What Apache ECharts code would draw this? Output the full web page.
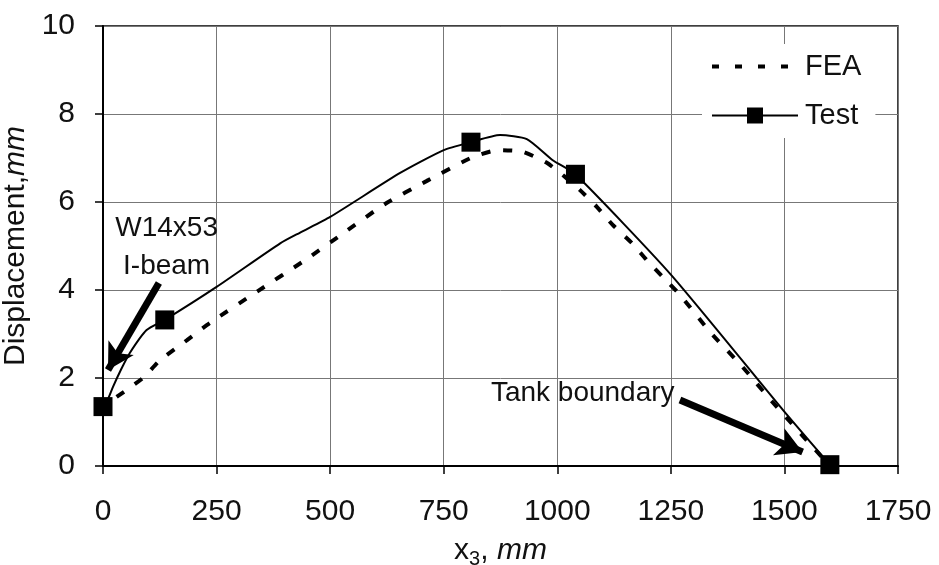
<!DOCTYPE html>
<html>
<head>
<meta charset="utf-8">
<script src="https://cdn.jsdelivr.net/npm/echarts@6/dist/echarts.min.js"></script>
<style>
  html, body { margin: 0; padding: 0; background: #fff; }
  #main { width: 939px; height: 565px; }
</style>
</head>
<body>
<div id="main"></div>
<script>
const FONT = 'Liberation Sans, Arial, sans-serif'

// FEA curve
const feaX = [30, 88, 125, 185, 235, 340, 445, 533, 620, 713, 814, 871, 924, 977, 1017, 1050, 1087, 1122, 1164, 1197, 1232, 1270, 1336, 1408, 1474, 1600]
const feaY = [1.57, 2.0, 2.4, 2.86, 3.25, 3.97, 4.68, 5.32, 5.95, 6.48, 7.02, 7.18, 7.14, 6.89, 6.57, 6.27, 5.89, 5.48, 5.07, 4.68, 4.3, 3.89, 3.05, 2.25, 1.45, 0]

// Test curve, measured points drawn with squares
const testX = [0, 10, 22, 40, 59, 96, 136, 250, 390, 433, 500, 654, 750, 810, 874, 933, 990, 1040, 1250, 1497, 1600]
const testY = [1.35, 1.5, 1.8, 2.2, 2.57, 3.09, 3.32, 4.07, 5.06, 5.3, 5.66, 6.66, 7.18, 7.36, 7.52, 7.43, 6.95, 6.63, 4.35, 1.27, 0.03]
const measuredX = [0, 136, 810, 1040, 1600]

const xTicks = [0, 250, 500, 750, 1000, 1250, 1500, 1750]
const yTicks = [0, 2, 4, 6, 8, 10]

// annotations in data coords
const notes = [
  { lines: ['W14x53', 'I-beam'], at: [140, 4.98], from: [123, 4.16], to: [11, 2.18] },
  { lines: ['Tank boundary'], at: [1056, 1.66], from: [1270, 1.5], to: [1540, 0.32] }
]

const chart = echarts.init(document.getElementById('main'))

const feaData = feaX.map((x, i) => [x, feaY[i]])
const testData = testX.map((x, i) => {
  if (measuredX.indexOf(x) >= 0) return [x, testY[i]]
  return { value: [x, testY[i]], symbol: 'none' }
})

const option = {
  backgroundColor: '#fff',
  animation: false,
  textStyle: { fontFamily: FONT, color: '#000' },
  grid: {
    left: 103, right: 41, top: 26, bottom: 99,
    outerBoundsMode: 'none',
    containLabel: false,
    show: true, borderColor: '#000', borderWidth: 1.5
  },
  legend: {
    orient: 'vertical',
    left: 702, top: 44,
    backgroundColor: '#fff',
    padding: [8, 14, 8, 8],
    itemWidth: 86, itemHeight: 20, itemGap: 20,
    textStyle: { fontSize: 29, color: '#111', fontFamily: FONT, padding: [0, 0, 0, 2] },
    data: [
      { name: 'FEA', itemStyle: { opacity: 0 }, lineStyle: { width: 4, type: [7, 16] } },
      { name: 'Test', lineStyle: { width: 2 } }
    ]
  },
  xAxis: {
    type: 'value',
    min: xTicks[0], max: xTicks[xTicks.length - 1], interval: 250,
    name: '{n|x}{s|3}{n|, }{i|mm}',
    nameLocation: 'middle', nameGap: 67,
    nameTextStyle: {
      rich: {
        n: { fontSize: 30, fontFamily: FONT, color: '#111' },
        s: { fontSize: 20, fontFamily: FONT, color: '#111', padding: [16, 0, 0, 0] },
        i: { fontSize: 30, fontFamily: FONT, fontStyle: 'italic', color: '#111' }
      }
    },
    axisLine: { onZero: false, lineStyle: { color: '#000', width: 2 } },
    axisTick: { show: true, length: 8, lineStyle: { color: '#000', width: 1.5 } },
    axisLabel: { fontSize: 30, color: '#111', margin: 31, fontFamily: FONT, formatter: v => String(v) },
    splitLine: { show: true, lineStyle: { color: '#777', width: 1 } }
  },
  yAxis: {
    type: 'value',
    min: yTicks[0], max: yTicks[yTicks.length - 1], interval: 2,
    name: '{n|Displacement,}{i|mm}',
    nameLocation: 'middle', nameGap: 64,
    nameTextStyle: {
      rich: {
        n: { fontSize: 30, fontFamily: FONT, color: '#111' },
        i: { fontSize: 30, fontFamily: FONT, fontStyle: 'italic', color: '#111' }
      }
    },
    axisLine: { show: true, lineStyle: { color: '#000', width: 2 } },
    axisTick: { show: true, length: 8, lineStyle: { color: '#000', width: 1.5 } },
    axisLabel: { fontSize: 30, color: '#111', margin: 28, fontFamily: FONT, formatter: v => String(v) },
    splitLine: { show: true, lineStyle: { color: '#777', width: 1 } }
  },
  series: [
    {
      name: 'FEA',
      type: 'line',
      data: feaData,
      symbol: 'none',
      smooth: 0.2,
      lineStyle: { color: '#000', width: 4, type: [9, 13] },
      itemStyle: { color: '#000' },
      z: 3
    },
    {
      name: 'Test',
      type: 'line',
      data: testData,
      symbol: 'rect',
      symbolSize: 19,
      showAllSymbol: true,
      smooth: 0.2,
      lineStyle: { color: '#000', width: 2 },
      itemStyle: { color: '#000' },
      z: 4,
      markLine: {
        silent: true,
        symbol: ['none', 'arrow'],
        symbolSize: [22, 26],
        lineStyle: { color: '#000', width: 7, type: 'solid' },
        label: { show: false },
        data: notes.map(n => [{ coord: n.from }, { coord: n.to }])
      }
    }
  ]
}

chart.setOption(option)

// annotation texts placed through the chart's own scales
const texts = []
notes.forEach(n => {
  const p = chart.convertToPixel({ gridIndex: 0 }, n.at)
  texts.push({
    type: 'text',
    x: p[0], y: p[1],
    z: 20,
    style: {
      text: n.lines.join('\n'),
      font: '28px ' + FONT,
      fill: '#111',
      align: 'center',
      verticalAlign: 'middle',
      lineHeight: 38
    }
  })
})
chart.setOption({ graphic: texts })
</script>
</body>
</html>
